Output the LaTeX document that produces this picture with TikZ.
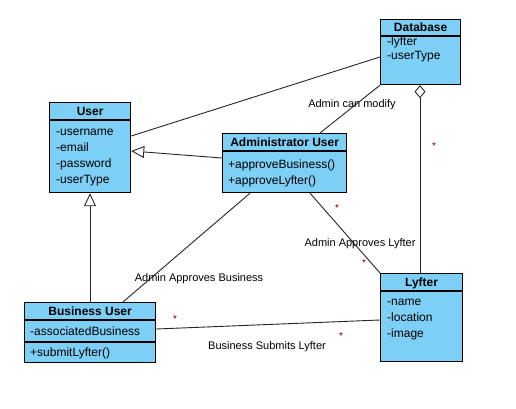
\documentclass[tikz,border=0pt]{standalone}
\usepackage{fontspec}
\setmainfont{Liberation Sans}
\usetikzlibrary{calc,arrows.meta}
\definecolor{clsfill}{RGB}{125,207,246}
\definecolor{starred}{RGB}{110,0,0}
\begin{document}
\begin{tikzpicture}[x=1pt,y=-1pt,
 cls/.style={draw=black,line width=1.2pt,fill=clsfill,anchor=north west,inner sep=0pt},
 sep/.style={draw=black,line width=1.2pt},
 ttl/.style={font=\fontsize{12}{14}\selectfont\bfseries,inner sep=0pt,anchor=base},
 attr/.style={font=\fontsize{12}{14}\selectfont,anchor=base west,inner sep=0pt},
 lbl/.style={font=\fontsize{11}{13}\selectfont,inner sep=0pt,anchor=base},
 mult/.style={font=\fontsize{10}{11}\selectfont,text=starred,inner sep=0pt},
 conn/.style={draw=black!85,line width=0.9pt},
 gen/.style={conn,-{Triangle[open,length=13pt,width=12pt]}},
]
\useasboundingbox (0,0) rectangle (516,409);
\fill[white] (0,0) rectangle (516,409);

% classes
\node[cls,minimum width=80pt,minimum height=65pt] (db) at (380,19) {};
\draw[sep] ($(db.north west)+(0,17)$) -- ($(db.north east)+(0,17)$);
\node[ttl] (dbt) at ($(db.north)+(0,12.8)$) {Database};
\node[attr] (db1) at (387,45.3) {-lyfter};
\node[attr] (db2) at (387,59.3) {-userType};

\node[cls,minimum width=81pt,minimum height=90pt] (user) at (49,102) {};
\draw[sep] ($(user.north west)+(0,18)$) -- ($(user.north east)+(0,18)$);
\node[ttl] (usert) at ($(user.north)+(0,13.3)$) {User};
\node[attr] (u1) at (56,135.3) {-username};
\node[attr] (u2) at (56,151.3) {-email};
\node[attr] (u3) at (56,167.3) {-password};
\node[attr] (u4) at (56,183.3) {-userType};

\node[cls,minimum width=124pt,minimum height=59pt] (admin) at (222,133) {};
\draw[sep] ($(admin.north west)+(0,18)$) -- ($(admin.north east)+(0,18)$);
\node[ttl] (admint) at ($(admin.north)+(0,13.3)$) {Administrator User};
\node[attr] (a1) at (228,168.3) {+approveBusiness()};
\node[attr] (a2) at (228,184.3) {+approveLyfter()};

\node[cls,minimum width=131pt,minimum height=60pt] (biz) at (24,302) {};
\draw[sep] ($(biz.north west)+(0,18)$) -- ($(biz.north east)+(0,18)$);
\draw[sep] ($(biz.north west)+(0,40)$) -- ($(biz.north east)+(0,40)$);
\node[ttl] (bizt) at ($(biz.north)+(0,13.3)$) {Business User};
\node[attr] (b1) at (30,335.3) {-associatedBusiness};
\node[attr] (b2) at (30,356.3) {+submitLyfter()};

\node[cls,minimum width=82pt,minimum height=88pt] (lyf) at (380,273) {};
\draw[sep] ($(lyf.north west)+(0,18)$) -- ($(lyf.north east)+(0,18)$);
\node[ttl] (lyft) at ($(lyf.north)+(0,13.3)$) {Lyfter};
\node[attr] (l1a) at (387,305.3) {-name};
\node[attr] (l2a) at (387,321.3) {-location};
\node[attr] (l3a) at (387,337.3) {-image};

% connectors
\draw[conn] ($(db.north west)+(0,38)$) -- ($(user.north east)+(0,34)$);
\draw[conn] ($(admin.north west)+(98,0)$) -- (db.south west);
\draw[gen] ($(admin.north west)+(0,25)$) -- ($(user.north east)+(0,49)$);
\draw[gen] ($(biz.north west)+(66,0)$) -- ($(user.south west)+(41,0)$);
\draw[conn] ($(admin.south west)+(28,0)$) -- ($(biz.north west)+(99,0)$);
\draw[conn] ($(admin.south west)+(88,0)$) -- (lyf.north west);
\draw[conn,{Diamond[open,length=13pt,width=11pt]}-] ($(db.south west)+(40,0)$) -- ($(lyf.north west)+(40,0)$);
\draw[conn] ($(biz.north east)+(0,27)$) -- ($(lyf.north west)+(0,47)$);

% labels
\node[lbl] (lab1) at (352,107) {Admin can modify};
\node[lbl] (lab2) at (199,281) {Admin Approves Business};
\node[lbl] (lab3) at (360,246) {Admin Approves Lyfter};
\node[lbl] (lab4) at (267,349) {Business Submits Lyfter};

% multiplicities
\node[mult] (m1) at (337,208) {*};
\node[mult] (m2) at (364,263) {*};
\node[mult] (m3) at (434,146) {*};
\node[mult] (m4) at (175,319) {*};
\node[mult] (m5) at (341,336) {*};
\end{tikzpicture}
\end{document}
